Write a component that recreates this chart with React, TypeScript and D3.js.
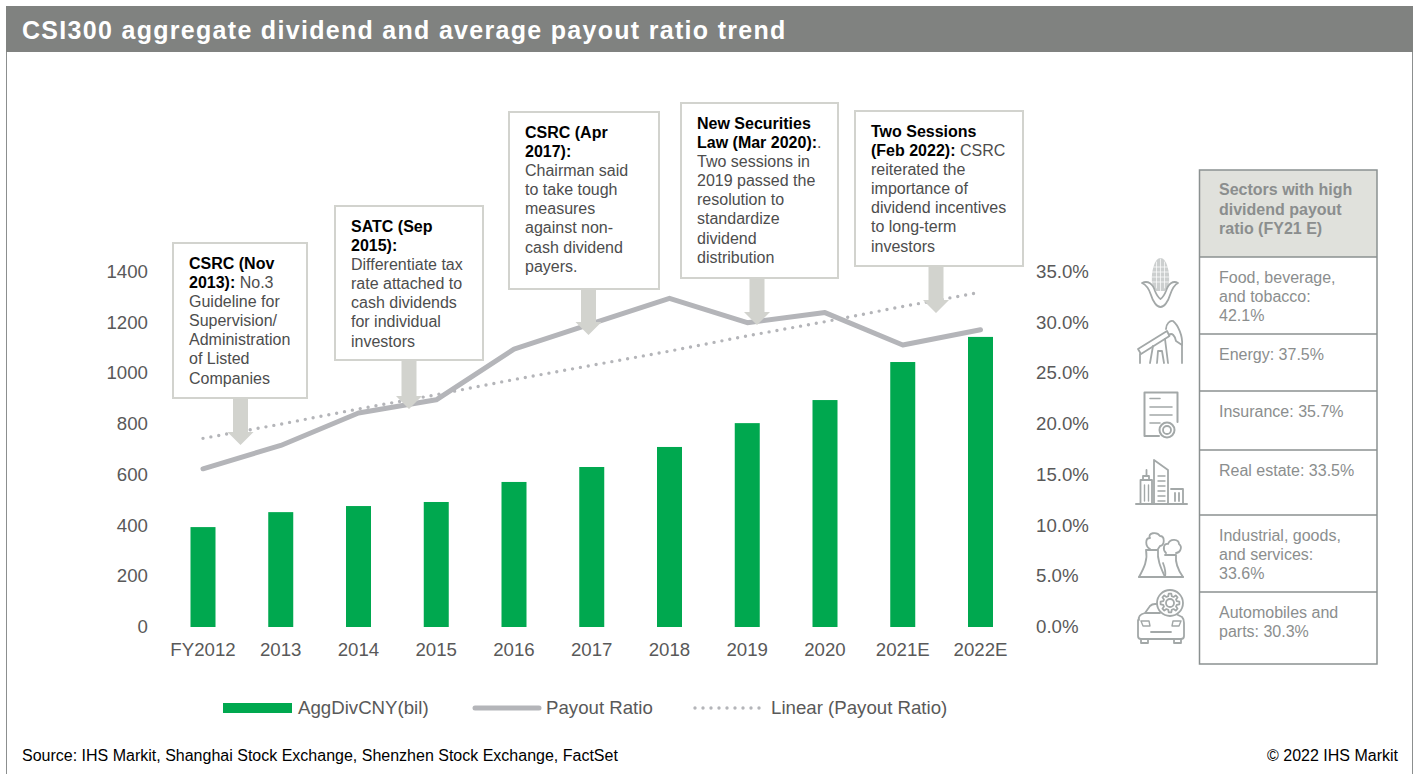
import React from "react";
import * as d3 from "d3";

const WIDTH = 1416;
const HEIGHT = 774;
const FONT = "'Liberation Sans', Arial, sans-serif";

const categories = ["FY2012", "2013", "2014", "2015", "2016", "2017", "2018", "2019", "2020", "2021E", "2022E"];
const aggDividend = [394, 453, 477, 493, 572, 631, 710, 804, 895, 1045, 1144];
const payoutRatio = [15.6, 17.9, 21.1, 22.4, 27.4, 29.9, 32.4, 30.0, 31.0, 27.8, 29.3];
const payoutTrend = [18.6, 20.0, 21.5, 22.9, 24.4, 25.8, 27.2, 28.7, 30.1, 31.6, 33.0];
const leftTicks = [0, 200, 400, 600, 800, 1000, 1200, 1400];
const rightTicks = [0, 5, 10, 15, 20, 25, 30, 35];

type Run = [string, boolean?];
type Note = { x: number; y: number; w: number; h: number; ax: number; tip: number; lines: Run[][] };

const notes: Note[] = [
  {
    x: 173, y: 243, w: 134, h: 155, ax: 240.5, tip: 445,
    lines: [
      [["CSRC (Nov", true]],
      [["2013):", true], [" No.3"]],
      [["Guideline for"]],
      [["Supervision/"]],
      [["Administration"]],
      [["of Listed"]],
      [["Companies"]],
    ],
  },
  {
    x: 335, y: 206, w: 148, h: 154, ax: 409, tip: 409,
    lines: [
      [["SATC (Sep", true]],
      [["2015):", true]],
      [["Differentiate tax"]],
      [["rate attached to"]],
      [["cash dividends"]],
      [["for individual"]],
      [["investors"]],
    ],
  },
  {
    x: 509, y: 112, w: 150, h: 177, ax: 588.5, tip: 335,
    lines: [
      [["CSRC (Apr", true]],
      [["2017):", true]],
      [["Chairman said"]],
      [["to take tough"]],
      [["measures"]],
      [["against non-"]],
      [["cash dividend"]],
      [["payers."]],
    ],
  },
  {
    x: 681, y: 103, w: 157, h: 175, ax: 757, tip: 325,
    lines: [
      [["New Securities", true]],
      [["Law (Mar 2020):", true], ["."]],
      [["Two sessions in"]],
      [["2019 passed the"]],
      [["resolution to"]],
      [["standardize"]],
      [["dividend"]],
      [["distribution"]],
    ],
  },
  {
    x: 855, y: 111, w: 168, h: 155, ax: 936, tip: 313,
    lines: [
      [["Two Sessions", true]],
      [["(Feb 2022):", true], [" CSRC"]],
      [["reiterated the"]],
      [["importance of"]],
      [["dividend incentives"]],
      [["to long-term"]],
      [["investors"]],
    ],
  },
];

const sectorHeader = ["Sectors with high", "dividend payout", "ratio (FY21 E)"];
const sectorRows = [
  ["Food, beverage,", "and tobacco:", "42.1%"],
  ["Energy: 37.5%"],
  ["Insurance: 35.7%"],
  ["Real estate: 33.5%"],
  ["Industrial, goods,", "and services:", "33.6%"],
  ["Automobiles and", "parts: 30.3%"],
];
const sectorEdges = [170, 257, 334, 391, 450, 515, 592, 664];

const legendItems = ["AggDivCNY(bil)", "Payout Ratio", "Linear (Payout Ratio)"];

const GREEN = "#00a84f";
const LINE_GRAY = "#b4b5b9";
const AXIS_TEXT = "#595959";
const CALLOUT = "#d2d3ce";
const ICON = "#a3a8a8";
const TABLE_TEXT = "#8b8e8e";
const TABLE_LINE = "#8b9191";

// Closed outline of a toothed wheel, centred on (cx, cy).
function cogPath(cx: number, cy: number, outer: number, inner: number, teeth: number) {
  const pts: [number, number][] = [];
  for (let i = 0; i < teeth; i++) {
    const a = (i * 2 * Math.PI) / teeth;
    const w = Math.PI / teeth / 2;
    [
      [a - w * 1.3, inner],
      [a - w * 0.7, outer],
      [a + w * 0.7, outer],
      [a + w * 1.3, inner],
    ].forEach(([t, r]) => pts.push([cx + r * Math.cos(t), cy + r * Math.sin(t)]));
  }
  return d3.line().curve(d3.curveLinearClosed)(pts) as string;
}

// Six outline pictograms that sit beside the sector table.
function SectorIcons() {
  return (
    <g fill="none" stroke={ICON} strokeWidth={1.8} strokeLinejoin="round" strokeLinecap="round">
      {/* corn */}
      <path d="M1152,283C1151,270 1155,258 1160.5,258C1166,258 1170,270 1169,283L1165,291H1156Z" fill={ICON} fillOpacity={0.55} stroke="none" />
      <path d="M1153,267H1168M1152,272H1169M1152,277H1169M1152,282H1169M1156.5,262V288M1160.5,259V291M1164.5,262V288" stroke="#fff" strokeWidth={0.7} />
      <path d="M1142,283C1148,280 1153,284 1155,291C1157,296 1159,298 1160.5,299C1162,298 1164,296 1166,291C1168,284 1173,280 1178,283C1174,285 1172,289 1170,295C1168,302 1164,307 1160.5,307C1157,307 1153,302 1151,295C1149,289 1147,285 1142,283Z" fill="#fff" />
      {/* oil pump */}
      <path d="M1138,349L1167,331L1169.5,336L1141,354Z" />
      <path d="M1166,329C1166,324 1170,320 1173,321C1178,325 1183,336 1182,345L1176,341C1175,336 1172,332 1169,335" />
      <path d="M1140,354V363M1182,345V363M1150,363L1153,346M1168,363L1165,339M1157,363L1158,351H1162L1164,363" />
      {/* certificate */}
      <path d="M1159,436H1144.5V392.5H1177.5V422" strokeWidth={2} />
      <path d="M1150,398.5H1160M1150,407H1172M1150,415H1172M1150,423H1160" strokeWidth={1.6} />
      <circle cx={1167} cy={430} r={7.5} fill="#fff" strokeWidth={2} />
      <circle cx={1167} cy={430} r={4} />
      {/* city block */}
      <path d="M1136,504H1187" strokeWidth={2} />
      <path d="M1140.5,504V480H1152V504M1143,480V476H1149V480M1146.5,476V470" />
      <path d="M1154,504V460L1168,470V504" />
      <path d="M1158,476H1165M1158,481H1165M1158,486H1165M1158,491H1165M1158,496H1165M1158,501H1165" strokeWidth={1.4} />
      <path d="M1144.5,485V501M1148.5,485V501" strokeWidth={1.4} />
      <path d="M1171,489H1183V504H1171M1175,493V501M1179,493V501" />
      {/* cooling towers */}
      <path d="M1139,577H1183" strokeWidth={2} />
      <path d="M1139,577C1144,568 1148,560 1146,550H1158C1157,560 1161,568 1165,577" />
      <path d="M1165,555H1176C1175,564 1178,570 1183,577M1163,563C1165,568 1166,572 1165,577" />
      <path d="M1150,549C1145,546 1145,538 1150,538C1147,533 1157,531 1160,536C1165,536 1165,545 1160,546L1158,549" />
      <path d="M1166,553C1162,549 1164,543 1168,544C1170,538 1179,539 1179,544C1183,547 1180,553 1176,553" />
      {/* car and cog */}
      <path d="M1139,620C1138,616 1141,614 1145,613L1150,606C1151,605 1153,604 1155,604H1158M1145,613H1160M1176,614L1182,617C1184,619 1184,621 1184,623V636C1184,638 1183,639 1181,639H1141C1139,639 1138,638 1138,636V620" />
      <path d="M1141,639V643H1148V639M1174,639V643H1181V639M1151,632H1171" />
      <path d="M1141,621H1149L1150,626H1143ZM1181,621H1173L1172,626H1179Z" strokeWidth={1.4} />
      <circle cx={1170} cy={603} r={13} fill="#fff" />
      <path d={cogPath(1170, 603, 9.5, 7, 8)} />
      <circle cx={1170} cy={603} r={4} />
    </g>
  );
}

export default function App() {
  const x = d3.scalePoint<string>().domain(categories).range([203, 980.5]);
  const yLeft = d3.scaleLinear().domain([0, 1400]).range([627, 272]);
  const yRight = d3.scaleLinear().domain([0, 35]).range([627, 272]);
  const barWidth = 25;

  const lineOf = d3
    .line<number>()
    .x((_, i) => x(categories[i]) as number)
    .y((v) => yRight(v));

  return (
    <svg
      width={WIDTH}
      height={HEIGHT}
      viewBox={`0 0 ${WIDTH} ${HEIGHT}`}
      style={{ position: "absolute", left: 0, top: 0, display: "block", background: "#fff" }}
      fontFamily={FONT}
    >
      {/* side rules and banner */}
      <path d={`M6.5,6V${HEIGHT}M1412.5,6V${HEIGHT}`} fill="none" stroke="#8c8f8f" strokeWidth={1} />
      <rect x={6} y={6} width={1407} height={46} fill="#808280" />
      <text x={22} y={39} fill="#fff" fontSize={25} fontWeight={700} letterSpacing={1.3}>
        CSI300 aggregate dividend and average payout ratio trend
      </text>

      {/* bars */}
      {aggDividend.map((v, i) => (
        <rect
          key={categories[i]}
          x={(x(categories[i]) as number) - barWidth / 2}
          y={yLeft(v)}
          width={barWidth}
          height={yLeft(0) - yLeft(v)}
          fill={GREEN}
        />
      ))}

      {/* payout ratio and its linear trend */}
      <path d={lineOf(payoutTrend) as string} fill="none" stroke={LINE_GRAY} strokeWidth={3.4} strokeDasharray="0 8" strokeLinecap="round" />
      <path d={lineOf(payoutRatio) as string} fill="none" stroke={LINE_GRAY} strokeWidth={5} strokeLinecap="round" strokeLinejoin="round" />

      {/* axes */}
      {leftTicks.map((t) => (
        <text key={t} x={148} y={yLeft(t) + 6} textAnchor="end" fontSize={18.67} fill={AXIS_TEXT}>
          {t}
        </text>
      ))}
      {rightTicks.map((t) => (
        <text key={t} x={1036} y={yRight(t) + 6} fontSize={18.67} fill={AXIS_TEXT}>
          {t.toFixed(1)}%
        </text>
      ))}
      {categories.map((c) => (
        <text key={c} x={x(c)} y={656} textAnchor="middle" fontSize={18.67} fill={AXIS_TEXT}>
          {c}
        </text>
      ))}

      {/* policy callouts */}
      {notes.map((n) => {
        const stem = 7.5;
        const head = 13;
        const shoulder = n.tip - 13;
        const base = n.y + n.h;
        return (
          <g key={n.x}>
            <path
              d={`M${n.ax - stem},${base}H${n.ax + stem}V${shoulder}H${n.ax + head}L${n.ax},${n.tip}L${n.ax - head},${shoulder}H${n.ax - stem}Z`}
              fill={CALLOUT}
            />
            <rect x={n.x} y={n.y} width={n.w} height={n.h} fill="#fff" stroke={CALLOUT} strokeWidth={2} />
            {n.lines.map((runs, li) => (
              <text key={li} x={n.x + 16} y={n.y + 25.7 + li * 19.15} fontSize={16} fill="#4d4d4d" xmlSpace="preserve">
                {runs.map((r, ri) => (
                  <tspan key={ri} fontWeight={r[1] ? 700 : 400} fill={r[1] ? "#000" : "#4d4d4d"}>
                    {r[0]}
                  </tspan>
                ))}
              </text>
            ))}
          </g>
        );
      })}

      {/* sector table */}
      <rect x={1199.5} y={sectorEdges[0]} width={177.5} height={sectorEdges[1] - sectorEdges[0]} fill="#e0e1dc" />
      <rect x={1199.5} y={sectorEdges[0]} width={177.5} height={sectorEdges[7] - sectorEdges[0]} fill="none" stroke={TABLE_LINE} strokeWidth={1.5} />
      {sectorEdges.slice(1, 7).map((e) => (
        <line key={e} x1={1199.5} x2={1377} y1={e} y2={e} stroke={TABLE_LINE} strokeWidth={1.3} />
      ))}
      {sectorHeader.map((s, i) => (
        <text key={s} x={1219} y={195 + i * 19.5} fontSize={16} fontWeight={700} fill={TABLE_TEXT}>
          {s}
        </text>
      ))}
      {sectorRows.map((row, r) =>
        row.map((s, i) => (
          <text key={s} x={1219} y={sectorEdges[r + 1] + 26 + i * 19} fontSize={16} fill={TABLE_TEXT}>
            {s}
          </text>
        ))
      )}
      <SectorIcons />

      {/* legend */}
      <rect x={223} y={703} width={69} height={10} fill={GREEN} />
      <text x={298} y={714} fontSize={18.67} fill={AXIS_TEXT}>{legendItems[0]}</text>
      <line x1={475} x2={539} y1={708} y2={708} stroke={LINE_GRAY} strokeWidth={5} strokeLinecap="round" />
      <text x={546} y={714} fontSize={18.67} fill={AXIS_TEXT}>{legendItems[1]}</text>
      <line x1={695} x2={766} y1={708} y2={708} stroke={LINE_GRAY} strokeWidth={3.4} strokeDasharray="0 8" strokeLinecap="round" />
      <text x={771} y={714} fontSize={18.67} fill={AXIS_TEXT}>{legendItems[2]}</text>

      {/* footer */}
      <text x={22} y={761} fontSize={16} fill="#000">
        Source: IHS Markit, Shanghai Stock Exchange, Shenzhen Stock Exchange, FactSet
      </text>
      <text x={1398} y={761} fontSize={16} fill="#000" textAnchor="end">
        © 2022 IHS Markit
      </text>
    </svg>
  );
}
